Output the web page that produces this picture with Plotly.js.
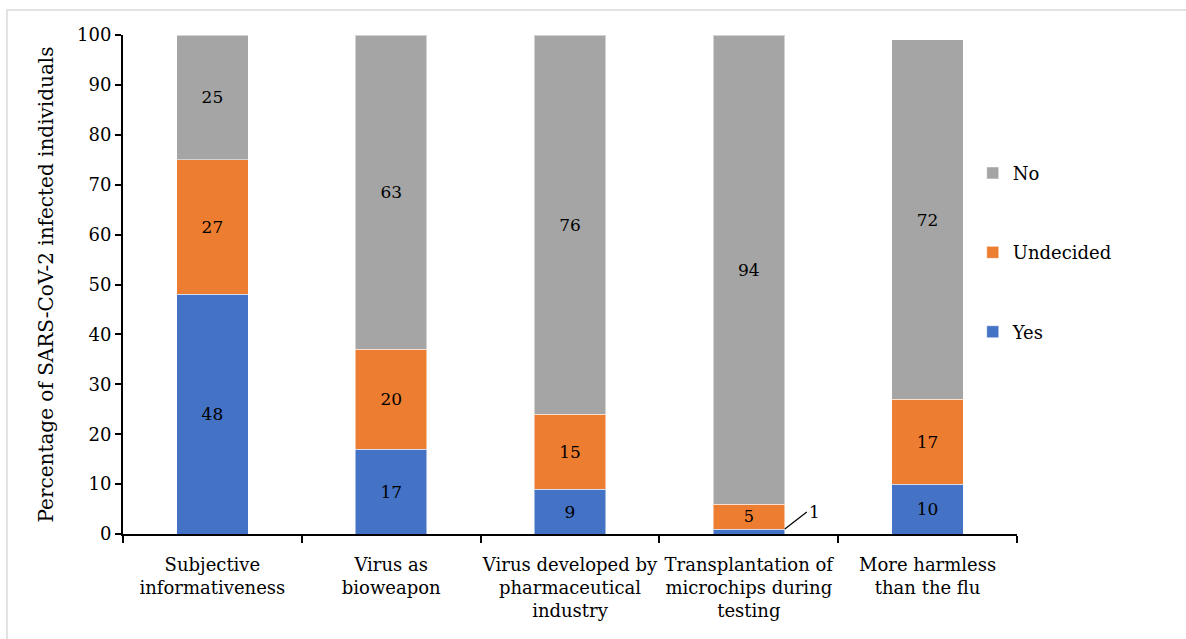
<!DOCTYPE html>
<html>
<head>
<meta charset="utf-8">
<script src="https://cdn.plot.ly/plotly-3.0.1.min.js"></script>
<style>html,body{margin:0;padding:0;background:#fff;}#chart{width:1186px;height:639px;}</style>
</head>
<body>
<div id="chart"></div>
<script>
const categories = [
  "Subjective<br>informativeness",
  "Virus as<br>bioweapon",
  "Virus developed by<br>pharmaceutical<br>industry",
  "Transplantation of<br>microchips during<br>testing",
  "More harmless<br>than the flu"
];
const yesValues = [48, 17, 9, 1, 10];
const undecidedValues = [27, 20, 15, 5, 17];
const noValues = [25, 63, 76, 94, 72];
const yTicks = [0, 10, 20, 30, 40, 50, 60, 70, 80, 90, 100];

const FONT = "'DejaVu Serif', 'Liberation Serif', serif";
const FS = 18;
const labelText = vals => vals.map(v => v >= 3 ? String(v) : "");

function barTrace(name, vals, color, rank) {
  return {
    type: "bar", name: name, x: categories, y: vals,
    marker: {color: color, line: {color: "rgba(255,255,255,0.5)", width: 1}},
    text: labelText(vals), textposition: "inside", insidetextanchor: "middle",
    textangle: 0,
    textfont: {family: FONT, size: 17, color: "#000"},
    hoverinfo: "name+y", legendgroup: name, legendrank: rank
  };
}

const traces = [
  barTrace("Yes", yesValues, "#4472C4", 3),
  barTrace("Undecided", undecidedValues, "#ED7D31", 2),
  barTrace("No", noValues, "#A5A5A5", 1)
];

const smallAnn = [];
yesValues.forEach((v, i) => {
  if (v < 3) {
    smallAnn.push({
      x: categories[i], y: v, xref: "x", yref: "y",
      text: String(v), showarrow: true, arrowhead: 0, arrowwidth: 1.2,
      arrowcolor: "#000", xshift: 36, ax: 22, ay: -17, xanchor: "left",
      font: {family: FONT, size: 17, color: "#000"}
    });
  }
});

const layout = {
  width: 1186, height: 639,
  margin: {l: 123, r: 169, t: 35, b: 105},
  paper_bgcolor: "#fff", plot_bgcolor: "#fff",
  barmode: "stack", bargap: 0.6,
  font: {family: FONT, size: FS, color: "#000"},
  showlegend: true,
  legend: {
    x: 0.9505, xanchor: "left", y: 0.76, yanchor: "top",
    traceorder: "grouped", tracegroupgap: 53,
    font: {family: FONT, size: FS, color: "#000"},
    bgcolor: "rgba(0,0,0,0)"
  },
  xaxis: {
    type: "category", showline: true, linecolor: "#000", linewidth: 2,
    ticks: "outside", tickson: "boundaries", ticklen: 7, tickwidth: 2, tickcolor: "#000",
    ticklabelstandoff: 13, tickangle: 0,
    showgrid: false, zeroline: false,
    tickfont: {family: FONT, size: FS, color: "#000"}
  },
  yaxis: {
    range: [0, 100], tickvals: yTicks, ticktext: yTicks.map(String),
    showline: true, linecolor: "#000", linewidth: 2,
    ticks: "outside", ticklen: 6, tickwidth: 2, tickcolor: "#000",
    showgrid: false, zeroline: false,
    tickfont: {family: FONT, size: FS, color: "#000"},
    title: {text: "Percentage of SARS-CoV-2 infected individuals", standoff: 18,
            font: {family: FONT, size: 20, color: "#000"}}
  },
  annotations: smallAnn,
  shapes: [{
    type: "rect", xref: "paper", yref: "paper",
    x0: -0.1298, x1: 1.5, y0: -0.5, y1: 1.0501,
    line: {color: "#d9d9d9", width: 1.5}, fillcolor: "rgba(0,0,0,0)", layer: "below"
  }]
};

Plotly.newPlot("chart", traces, layout, {displayModeBar: false, staticPlot: true});
</script>
</body>
</html>
